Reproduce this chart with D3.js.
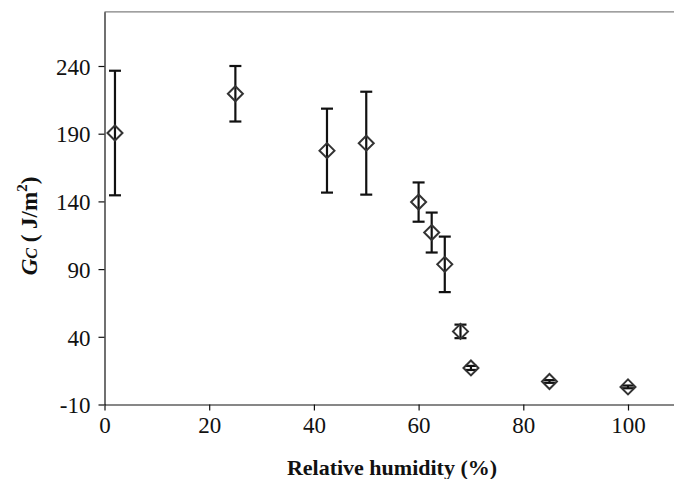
<!DOCTYPE html>
<html>
<head>
<meta charset="utf-8">
<script src="https://cdn.jsdelivr.net/npm/d3@7"></script>
<style>
  html, body { margin: 0; padding: 0; background: #fff; }
  svg { display: block; font-family: "Liberation Serif", "Times New Roman", serif; }
</style>
</head>
<body>
<svg id="chart" width="674" height="479"></svg>
<script>
// Relative humidity (%) of each test
const humidity = [2, 25, 42.5, 50, 60, 62.5, 65, 68, 70, 85, 100];
// Mean critical energy release rate Gc (J/m^2)
const gcMean = [190.5, 219.5, 177.5, 183, 139.5, 117, 93.5, 44, 17, 7, 3];
// Standard deviation (error bar half-length)
const gcErr = [46, 20.5, 31, 38, 14.5, 14.75, 20.5, 5, 1.5, 1, 1];
// Axis ticks
const xTicks = [0, 20, 40, 60, 80, 100];
const yTicks = [-10, 40, 90, 140, 190, 240];

const svg = d3.select("#chart");

const x0 = 104.5, pxPerX = 5.235;
const x = d3.scaleLinear().domain([0, 110]).range([x0, x0 + 110 * pxPerX]);
const y = d3.scaleLinear().domain([-10, 280]).range([404.5, 404.5 - 290 * 1.354]);

const data = humidity.map((h, i) => ({ h, g: gcMean[i], e: gcErr[i] }));
const fmt = d => String(d);

// plot frame top edge
svg.append("line")
  .attr("x1", x(0)).attr("x2", x(110))
  .attr("y1", y(280)).attr("y2", y(280))
  .attr("stroke", "#808080").attr("stroke-width", 1.2);

// x axis
const xAxis = svg.append("g")
  .attr("transform", `translate(0,${y(-10)})`)
  .call(d3.axisBottom(x).tickValues(xTicks).tickSize(6).tickSizeOuter(0).tickFormat(fmt));
xAxis.select(".domain").attr("stroke", "#111").attr("stroke-width", 1.2);
xAxis.selectAll(".tick line").attr("stroke", "#111").attr("stroke-width", 1.2);
xAxis.selectAll(".tick text")
  .attr("font-family", "Liberation Serif, serif")
  .attr("font-size", 23).attr("fill", "#111")
  .attr("dy", null).attr("y", 28);

// y axis
const yAxis = svg.append("g")
  .attr("transform", `translate(${x(0)},0)`)
  .call(d3.axisLeft(y).tickValues(yTicks).tickSize(6).tickSizeOuter(0).tickFormat(fmt));
yAxis.select(".domain").attr("stroke", "#111").attr("stroke-width", 1.2);
yAxis.selectAll(".tick line").attr("stroke", "#111").attr("stroke-width", 1.2);
yAxis.selectAll(".tick text")
  .attr("font-family", "Liberation Serif, serif")
  .attr("font-size", 23).attr("fill", "#111")
  .attr("x", -14).attr("dy", "0.36em");

// error bars
const eb = svg.append("g").attr("stroke", "#111").attr("stroke-width", 2.2).attr("fill", "none");
data.forEach(d => {
  const cx = x(d.h), yt = y(d.g + d.e), yb = y(d.g - d.e);
  eb.append("line").attr("x1", cx).attr("x2", cx).attr("y1", yt).attr("y2", yb);
  eb.append("line").attr("x1", cx - 6).attr("x2", cx + 6).attr("y1", yt).attr("y2", yt);
  eb.append("line").attr("x1", cx - 6).attr("x2", cx + 6).attr("y1", yb).attr("y2", yb);
});

// diamond markers
const r = 7.5;
svg.append("g").selectAll("path").data(data).join("path")
  .attr("d", d => {
    const cx = x(d.h), cy = y(d.g);
    return `M${cx},${cy - r}L${cx + r},${cy}L${cx},${cy + r}L${cx - r},${cy}Z`;
  })
  .attr("fill", "none").attr("stroke", "#333").attr("stroke-width", 2);

// x axis title
svg.append("text")
  .attr("x", 392).attr("y", 475)
  .attr("text-anchor", "middle")
  .attr("font-size", 22).attr("font-weight", "bold").attr("fill", "#111")
  .text("Relative humidity (%)");

// y axis title
const yt = svg.append("text")
  .attr("transform", "translate(37,226) rotate(-90)")
  .attr("text-anchor", "middle")
  .attr("font-size", 23).attr("font-weight", "bold").attr("fill", "#111");
yt.append("tspan").attr("font-style", "italic").text("G");
yt.append("tspan").attr("font-style", "italic").attr("font-size", 16).text("C");
yt.append("tspan").text(" ( J/m");
yt.append("tspan").attr("font-size", 15).attr("dy", -10).text("2");
yt.append("tspan").attr("dy", 10).text(")");
</script>
</body>
</html>
